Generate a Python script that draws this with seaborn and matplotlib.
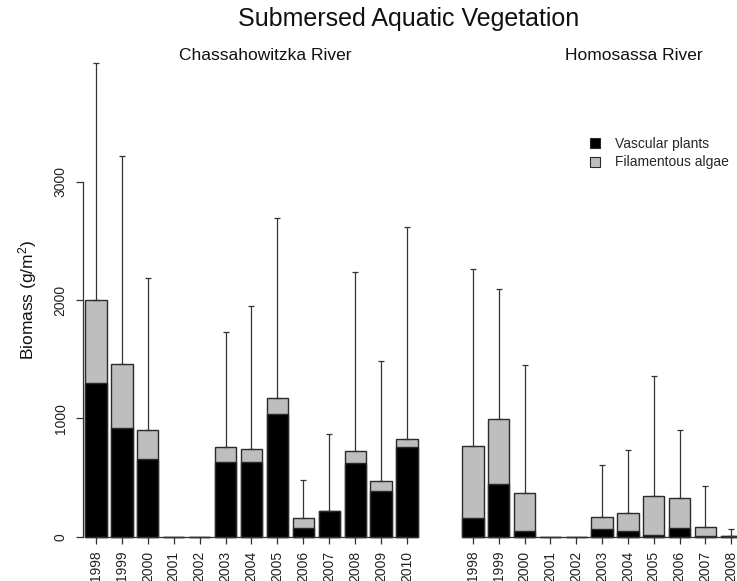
import numpy as np
import pandas as pd
import seaborn as sns
import matplotlib
matplotlib.use("Agg")
import matplotlib.pyplot as plt
from matplotlib.patches import Patch

# Mean biomass (g/m^2) per year, split into vascular plants and filamentous algae,
# plus the upper end of each error bar.
chass_years = ["1998", "1999", "2000", "2001", "2002", "2003", "2004",
               "2005", "2006", "2007", "2008", "2009", "2010"]
chass_vascular = [1300, 920, 660, 0, 0, 630, 635, 1035, 70, 217, 620, 390, 755]
chass_algae = [700, 540, 245, 0, 0, 130, 110, 135, 90, 0, 108, 82, 68]
chass_err_top = [4000, 3220, 2185, np.nan, np.nan, 1730, 1950, 2690, 480, 870, 2235, 1485, 2620]

homo_years = ["1998", "1999", "2000", "2001", "2002", "2003", "2004",
              "2005", "2006", "2007", "2008", "2009"]
homo_vascular = [155, 448, 48, 0, 0, 62, 48, 14, 70, 4, 3, 0]
homo_algae = [615, 547, 324, 0, 0, 107, 152, 327, 254, 81, 5, 20]
homo_err_top = [2265, 2090, 1450, np.nan, np.nan, 603, 735, 1355, 899, 425, 62, np.nan]

y_ticks = [0, 1000, 2000, 3000]

sns.set_style("white")
plt.rcParams["font.family"] = ["Liberation Sans", "DejaVu Sans"]
plt.rcParams["mathtext.fontset"] = "custom"
plt.rcParams["mathtext.rm"] = "Liberation Sans"
plt.rcParams["mathtext.it"] = "Liberation Sans:italic"

W, H = 737, 581
fig = plt.figure(figsize=(W / 100, H / 100), dpi=100)

GRAY = "#bebebe"
EDGE = "#2a2a2a"
PX_PER_CAT = 24.4            # pixels between neighbouring bars
PX_PER_UNIT = 118.33 / 1000  # pixels per g/m^2
Y0_PX = 536.7                # pixel row of zero biomass
TOP_PX = 40


def make_axes(left_px, right_px, first_px):
    ax = fig.add_axes([left_px / W, (H - Y0_PX) / H,
                       (right_px - left_px) / W, (Y0_PX - TOP_PX) / H])
    ax.set_xlim((left_px - first_px) / PX_PER_CAT, (right_px - first_px) / PX_PER_CAT)
    ax.set_ylim(0, (Y0_PX - TOP_PX) / PX_PER_UNIT)
    return ax


def draw_panel(ax, years, vascular, algae, err_top, n_labels):
    df = pd.DataFrame({"year": years,
                       "vascular": vascular,
                       "total": np.add(vascular, algae),
                       "err_top": err_top})
    sns.barplot(data=df, x="year", y="total", order=years, color=GRAY,
                saturation=1, width=0.82, edgecolor=EDGE, linewidth=1.0,
                errorbar=None, ax=ax)
    sns.barplot(data=df, x="year", y="vascular", order=years, color="black",
                saturation=1, width=0.82, edgecolor=EDGE, linewidth=1.0,
                errorbar=None, ax=ax)
    for p in ax.patches:
        p.set_clip_on(False)
    has_err = df["err_top"].notna().to_numpy()
    pos = np.arange(len(years))[has_err]
    tot = df["total"].to_numpy()[has_err]
    up = df["err_top"].to_numpy()[has_err] - tot
    eb = ax.errorbar(pos, tot, yerr=[np.zeros_like(up), up], fmt="none",
                     ecolor="#333333", elinewidth=0.9, capsize=1.9,
                     capthick=0.9, zorder=1)
    for artist in eb.lines[1] + eb.lines[2]:
        artist.set_clip_on(False)
    ax.set_xticks(range(n_labels))
    ax.set_xticklabels(years[:n_labels], rotation=90, fontsize=10, color="#222222")
    ax.tick_params(axis="x", length=5, width=0.9, pad=5, color="#333333",
                   bottom=True, direction="out")
    ax.set_xlabel("")
    ax.set_ylabel("")
    for s in ("top", "right"):
        ax.spines[s].set_visible(False)
    ax.spines["bottom"].set_bounds(0, len(years) - 1)
    ax.spines["bottom"].set_color("#333333")
    ax.spines["bottom"].set_linewidth(0.9)


# Chassahowitzka River panel
ax1 = make_axes(83, 420, 105)
draw_panel(ax1, chass_years, chass_vascular, chass_algae, chass_err_top,
           len(chass_years))
ax1.set_yticks(y_ticks)
ax1.set_yticklabels([str(t) for t in y_ticks], rotation=90, va="center",
                    fontsize=10, color="#222222")
ax1.tick_params(axis="y", length=5, width=0.9, pad=6, color="#333333",
                left=True, direction="out")
ax1.spines["left"].set_bounds(0, 3000)
ax1.spines["left"].set_color("#333333")
ax1.spines["left"].set_linewidth(0.9)

# Homosassa River panel (runs on past the right edge of the figure)
ax2 = make_axes(460, 770, 477.7)
draw_panel(ax2, homo_years, homo_vascular, homo_algae, homo_err_top,
           len(homo_years) - 1)
ax2.spines["left"].set_visible(False)
ax2.set_yticks([])

# Titles and labels
fig.text(409 / W, 1 - 19 / H, "Submersed Aquatic Vegetation", ha="center",
         va="center", fontsize=18, color="#111111")
fig.text(265 / W, 1 - 55 / H, "Chassahowitzka River", ha="center", va="center",
         fontsize=12.5, color="#111111")
fig.text(634 / W, 1 - 55 / H, "Homosassa River", ha="center", va="center",
         fontsize=12.5, color="#111111")
fig.text(28 / W, 1 - 300 / H, "Biomass (g/m$^2$)", rotation=90, ha="center",
         va="center", fontsize=12.5, color="#111111")

handles = [Patch(facecolor="black", edgecolor=EDGE, linewidth=0.8, label="Vascular plants"),
           Patch(facecolor=GRAY, edgecolor=EDGE, linewidth=0.8, label="Filamentous algae")]
fig.legend(handles=handles, loc="upper left", bbox_to_anchor=(590 / W, 1 - 137 / H),
           frameon=False, fontsize=10, handlelength=0.72, handleheight=0.72,
           handletextpad=1.05, labelspacing=0.32, borderpad=0, borderaxespad=0)

fig.savefig("out.png", dpi=100)
